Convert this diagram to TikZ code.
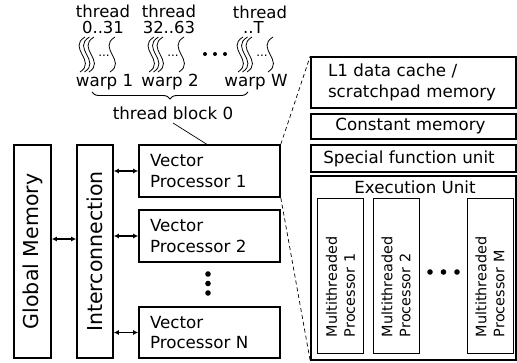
\documentclass[tikz,border=0pt]{standalone}
\usepackage{fontspec}
\setmainfont{DejaVu Sans}
\usetikzlibrary{arrows.meta,calc,decorations.pathreplacing}

\tikzset{
  base/.style={font=\fontsize{16.7}{20.5}\selectfont},
  threadlabel/.style={font=\fontsize{16.5}{15.5}\selectfont, align=center, inner sep=0pt},
  bigbox/.style={draw, line width=1.6pt, inner sep=0pt},
  vertbox/.style={bigbox, font=\fontsize{20.5}{24}\selectfont, rotate=90},
  vpbox/.style={bigbox, base, minimum height=52pt, text width=119pt, inner xsep=11pt, align=left},
  unitbox/.style={bigbox, base, minimum width=205pt},
  mpbox/.style={draw, line width=0.8pt, rotate=90, minimum width=155pt, minimum height=46pt,
    text width=123pt, inner xsep=16pt, inner ysep=0pt, align=left, font=\fontsize{14.4}{18}\selectfont},
  biarrow/.style={{Latex[length=5pt,width=5pt]}-{Latex[length=5pt,width=5pt]}, line width=1.3pt},
  zoomline/.style={dashed, dash pattern=on 4pt off 3pt, line width=0.7pt},
  threadline/.style={line width=0.8pt},
  bigdot/.style={fill=black},
}

\begin{document}
\begin{tikzpicture}[x=1pt,y=-1pt]
\useasboundingbox (0,0) rectangle (517,362);

% ---- left: memory, interconnect, vector processors ----
% (rotated boxes: north is the left edge, south the right edge)
\node[vertbox, minimum width=213pt, minimum height=37pt] (gm) at (32.5,251.5) {Global Memory};
\node[vertbox, minimum width=213pt, minimum height=36pt] (ic) at (95,251.5) {Interconnection};

\node[vpbox] (vp1) at (209.5,171) {Vector\\Processor 1};
\node[vpbox] (vp2) at (209.5,236) {Vector\\Processor 2};
\node[vpbox, minimum height=51pt] (vpn) at (209.5,332.5) {Vector\\Processor N};

\foreach \y in {274,283.5,293} \fill[bigdot] (208,\y) circle (2.8pt);

\draw[biarrow] (gm.south |- 0,239) -- (ic.north |- 0,239);
\draw[biarrow] (ic.south |- vp1.west) -- (vp1.west);
\draw[biarrow] (ic.south |- vp2.west) -- (vp2.west);
\draw[biarrow] (ic.south |- vpn.west) -- (vpn.west);

% ---- right: inside of a vector processor ----
\node[unitbox, minimum height=51pt, text width=171pt, inner xsep=17pt, align=left] (l1) at (413.5,82.5)
  {L1 data cache /\\scratchpad memory};
\node[unitbox, minimum height=25pt] (cm) at (413.5,126.5) {\hspace{-6pt}Constant memory};
\node[unitbox, minimum height=27pt] (sfu) at (413.5,158.5) {\hspace{-9pt}Special function unit};
\node[unitbox, minimum height=184pt] (eu) at (413.5,268) {};
\node[base] (eulabel) at (415,187) {Execution Unit};

\node[mpbox] (mp1) at (340.5,275.5) {Multithreaded\\Processor 1};
\node[mpbox] (mp2) at (396,275.5) {Multithreaded\\Processor 2};
\node[mpbox] (mpm) at (490,275.5) {Multithreaded\\Processor M};

\foreach \x in {430,443.5,457} \fill[bigdot] (\x,272) circle (2.8pt);

\draw[zoomline] (vp1.north east) -- (l1.north west);
\draw[zoomline] (vp1.south east) -- (eu.south west);

% ---- top: threads grouped into warps ----
\node[threadlabel] (th1) at (103,19.5) {thread\\0..31};
\node[threadlabel] (th2) at (169,19.5) {thread\\32..63};
\node[threadlabel] (th3) at (260,19.5) {thread\\\hspace*{-13pt}..T};

\foreach \bx in {77,146,235} {
  \foreach \d in {0,4.5,9}
    \draw[threadline] (\bx+\d+8,37) .. controls (\bx+\d-10,48) and (\bx+\d+20,61) .. (\bx+\d+3,72);
  \node[font=\fontsize{12}{12}\selectfont, inner sep=0pt] at (\bx+27,56) {...};
  \draw[threadline] (\bx+38,37) .. controls (\bx+20,48) and (\bx+50,61) .. (\bx+33,72);
}
\foreach \x in {205,215,225} \fill[bigdot] (\x,54) circle (2pt);

\node[base] (w1) at (104.5,82) {warp 1};
\node[base] (w2) at (170,82) {warp 2};
\node[base] (ww) at (256,82) {warp W};

\draw[line width=0.9pt, decorate, decoration={brace, mirror, amplitude=7pt}]
  (92,92) -- (248,92);
\node[base] (tb) at (173,113) {thread block 0};
\draw[line width=0.7pt] (tb.south) -- ($(vp1.north west)!0.48!(vp1.north east)$);
\end{tikzpicture}
\end{document}
